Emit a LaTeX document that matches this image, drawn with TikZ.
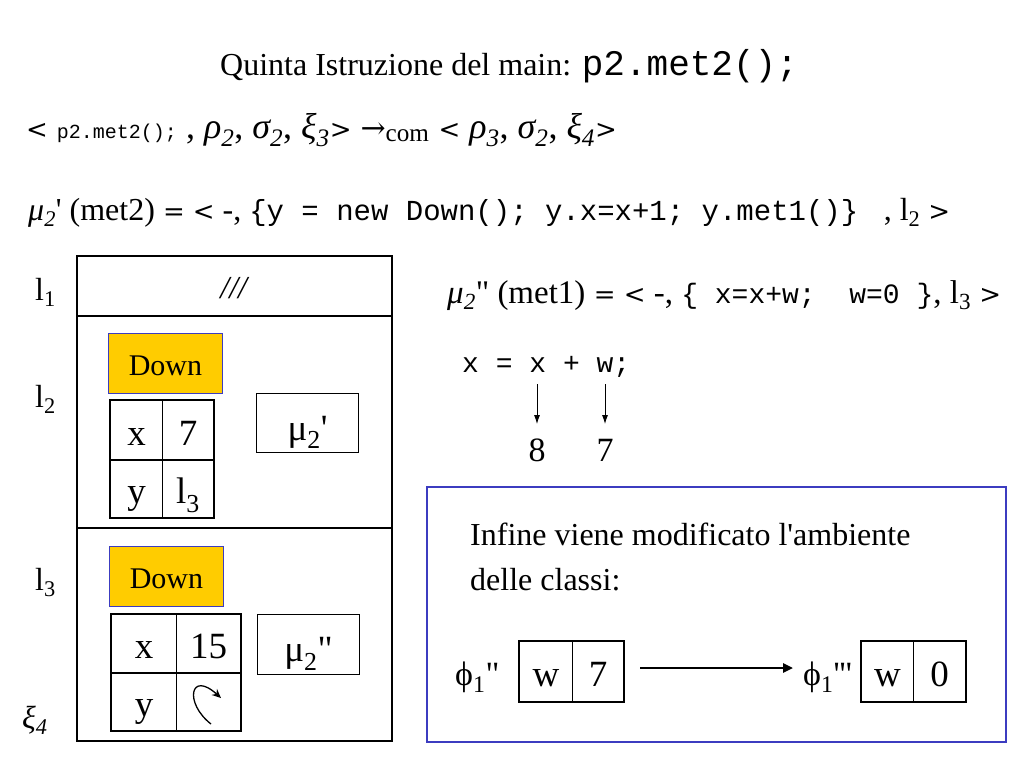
\documentclass[tikz,border=0pt]{standalone}
\usepackage{fontspec}
\setmainfont{Liberation Serif}[Ligatures=TeXOff]
\setmonofont{Liberation Mono}
\newfontfamily\symf{DejaVu Serif}
\usetikzlibrary{arrows.meta}
\newcommand\fsz[1]{\fontsize{#1}{#1}\selectfont}
\newcommand\sbs[1]{\textsubscript{#1}}
\newcommand\lt{{\symf\fontsize{26}{26}\selectfont <}}
\newcommand\gt{{\symf\fontsize{26}{26}\selectfont >}}
\newcommand\eqs{{\symf\fontsize{26}{26}\selectfont =}}
\newcommand\rarr{{\symf\fontsize{30}{30}\selectfont →}}
\definecolor{downfill}{HTML}{FFCC00}
\definecolor{boxblue}{HTML}{3C3CC0}
\begin{document}
\begin{tikzpicture}[x=1pt,y=-1pt,
  lbl/.style={inner sep=0pt, anchor=base west},
  ctr/.style={inner sep=0pt, anchor=center},
  cell/.style={draw, line width=1pt, inner sep=0pt, anchor=north west, font=\fsz{37}, text height=30pt, text depth=0pt},
  downbox/.style={draw=boxblue, line width=1pt, fill=downfill, inner sep=0pt, anchor=north west, font=\fsz{30}, text height=24pt, text depth=0pt},
  mubox/.style={draw, line width=1pt, inner sep=0pt, anchor=north west, font=\fsz{37}, text height=34pt, text depth=0pt},
  thickb/.style={line width=2.8pt},
  thinarrow/.style={line width=0.8pt, -{Latex[length=9pt,width=6pt]}},
  bigarrow/.style={line width=2.4pt, -{Triangle[length=10pt,width=9pt]}}]
\useasboundingbox (0,0) rectangle (1024,768);
\fill[white] (0,0) rectangle (1024,768);

% title
\node[lbl] (title) at (220,75) {\fsz{32}Quinta Istruzione del main: {\ttfamily\fsz{36}p2.met2();}};

% configuration line
\node[lbl] (conf) at (26,138) {\fsz{36}\lt{} {\ttfamily\fsz{20}p2.met2();} , \textit{ρ\sbs{2}}, \textit{σ\sbs{2}}, \textit{ξ\sbs{3}}\gt{} \rarr\sbs{com} \lt{} \textit{ρ\sbs{3}}, \textit{σ\sbs{2}}, \textit{ξ\sbs{4}}\gt};

% mu2'
\node[lbl] (mua) at (28,220) {\fsz{32}\textit{μ\sbs{2}}' (met2) \eqs{} \lt{} -, {\ttfamily\fsz{29}\{y = new Down(); y.x=x+1; y.met1()\}~} , l\sbs{2} \gt};

% mu2''
\node[lbl] (mub) at (447,303) {\fsz{33}\textit{μ\sbs{2}}" (met1) \eqs{} \lt{} -, {\ttfamily\fsz{28}\{~x=x+w;~~w=0~\}}, l\sbs{3} \gt};

% x = x + w
\node[lbl] (asg) at (462,372) {\ttfamily\fsz{28}x = x + w;};
\coordinate (a1s) at (537,384);
\coordinate (a2s) at (605,384);
\node[ctr] (n8) at (537,450) {\fsz{34}8};
\node[ctr] (n7) at (605,450) {\fsz{34}7};
\draw[thinarrow] (a1s) -- (537,424);
\draw[thinarrow] (a2s) -- (605,424);

% location labels
\node[lbl] (l1) at (35,300) {\fsz{32}l\sbs{1}};
\node[lbl] (l2) at (35,407) {\fsz{32}l\sbs{2}};
\node[lbl] (l3) at (35,590) {\fsz{32}l\sbs{3}};
\node[lbl] (xi4) at (22,728) {\fsz{32}\textit{ξ\sbs{4}}};

% memory box
\draw[line width=1.5pt] (77,256) rectangle (392,741);
\draw[line width=1.5pt] (77,316) -- (392,316);
\draw[line width=1.5pt] (77,528) -- (392,528);
\node[ctr] (nul) at (235,288) {\fsz{32}\textit{///}};

% object at l2
\node[downbox, minimum width=114pt, minimum height=60pt] (down1) at (108,333) {Down};
\node[cell, minimum width=52pt, minimum height=59pt] (c1x) at (110,400) {x};
\node[cell, minimum width=51pt, minimum height=59pt] (c1v) at (162,400) {7};
\node[cell, minimum width=52pt, minimum height=58pt] (c1y) at (110,459) {y};
\node[cell, minimum width=51pt, minimum height=58pt] (c1w) at (162,459) {l\sbs{3}};
\draw[thickb] (c1x.north west) rectangle (c1w.south east);
\draw[thickb] (c1x.south west) -- (c1v.south east);
\node[mubox, minimum width=102pt, minimum height=59pt] (mu1) at (256,393) {μ\sbs{2}'};

% object at l3
\node[downbox, minimum width=114pt, minimum height=60pt] (down2) at (109,546) {Down};
\node[cell, minimum width=65pt, minimum height=58pt] (c2x) at (111,614) {x};
\node[cell, minimum width=64pt, minimum height=58pt] (c2v) at (176,614) {15};
\node[cell, minimum width=65pt, minimum height=58pt] (c2y) at (111,672) {y};
\node[cell, minimum width=64pt, minimum height=58pt] (c2w) at (176,672) {};
\draw[thickb] (c2x.north west) rectangle (c2w.south east);
\draw[thickb] (c2x.south west) -- (c2v.south east);
\draw[line width=1.3pt, -{Stealth[length=9pt,width=8pt]}] (211,724) .. controls (184,703) and (190,670) .. (221,698);
\node[mubox, minimum width=102pt, minimum height=60pt] (mu2) at (257,614) {μ\sbs{2}"};

% class environment box
\draw[boxblue, line width=1.6pt] (427,487) rectangle (1006,742);
\node[lbl] (inf1) at (470,545) {\fsz{32}Infine viene modificato l'ambiente};
\node[lbl] (inf2) at (470,590) {\fsz{32}delle classi:};

\node[lbl] (phiA) at (455,685) {\fsz{34}ϕ\sbs{1}"};
\node[cell, minimum width=53pt, minimum height=60pt] (w1) at (519,641) {w};
\node[cell, minimum width=51pt, minimum height=60pt] (v1) at (572,641) {7};
\draw[thickb] (w1.north west) rectangle (v1.south east);

\node[lbl] (phiB) at (803,685) {\fsz{34}ϕ\sbs{1}'''};
\node[cell, minimum width=52pt, minimum height=60pt] (w2) at (861,641) {w};
\node[cell, minimum width=52pt, minimum height=60pt] (v2) at (913,641) {0};
\draw[thickb] (w2.north west) rectangle (v2.south east);

\coordinate (arrS) at (640,668);
\coordinate (arrE) at (793,668);
\draw[bigarrow] (arrS) -- (arrE);
\end{tikzpicture}
\end{document}
